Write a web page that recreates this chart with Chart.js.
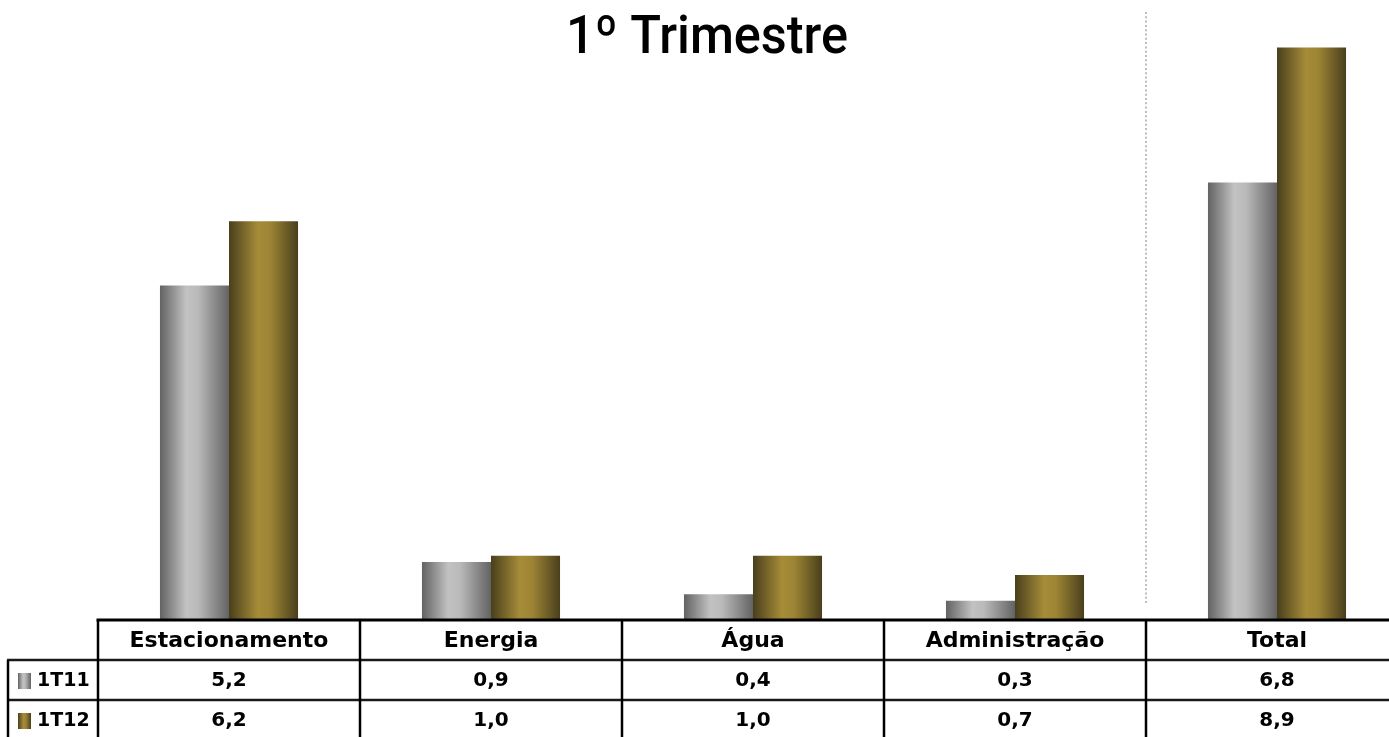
<!DOCTYPE html>
<html>
<head>
<meta charset="utf-8">
<script src="https://cdn.jsdelivr.net/npm/chart.js@4"></script>
<style>
  html, body { margin: 0; padding: 0; background: #fff; overflow: hidden; }
  #wrap { position: relative; width: 1408px; height: 737px; }
</style>
</head>
<body>
<div id="wrap"><canvas id="c"></canvas></div>
<script>
// Quarterly figures per cost line
const categories = ['Estacionamento', 'Energia', 'Água', 'Administração', 'Total'];
const seriesNames = ['1T11', '1T12'];
const values1T11 = [5.2, 0.9, 0.4, 0.3, 6.8];
const values1T12 = [6.2, 1.0, 1.0, 0.7, 8.9];
const chartTitle = '1º Trimestre';

const HEADER_FONT = 'bold 22px "DejaVu Sans", sans-serif';
const VALUE_FONT = 'bold 20px "DejaVu Sans", sans-serif';
const KEY_FONT = 'bold 19px "DejaVu Sans", sans-serif';
const TITLE_FONT = '500 53px Roboto, "Open Sans", sans-serif';
const CAT_PCT = 0.527;

// Cylinder-like horizontal shading for each series
const shades = [
  [[0, '#626262'], [0.38, '#c2c2c2'], [0.55, '#bababa'], [1, '#636363']],
  [[0, '#4a3f1c'], [0.42, '#a68c38'], [0.6, '#9c8434'], [1, '#4a3f1c']]
];

const fmt = v => v.toFixed(1).replace('.', ',');

function shadeFor(ctx, series, x0, x1) {
  const g = ctx.createLinearGradient(x0, 0, x1, 0);
  shades[series].forEach(s => g.addColorStop(s[0], s[1]));
  return g;
}

// per-bar gradient, positioned from the category scale
function barFill(context) {
  const chart = context.chart;
  const xs = chart.scales.x;
  const fallback = shades[context.datasetIndex][1][1];
  if (!xs || context.dataIndex === undefined) return fallback;
  const step = xs.getPixelForValue(1) - xs.getPixelForValue(0);
  const c = xs.getPixelForValue(context.dataIndex);
  if (!isFinite(step) || !isFinite(c) || step <= 0) return fallback;
  const w = step * CAT_PCT / 2;
  const x0 = context.datasetIndex === 0 ? c - w : c;
  return shadeFor(chart.ctx, context.datasetIndex, x0, x0 + w);
}

const tablePlugin = {
  id: 'dataTable',
  afterDraw(chart) {
    const ctx = chart.ctx;
    const xs = chart.scales.x;
    const area = chart.chartArea;
    const W = chart.width;
    const step = xs.getPixelForValue(1) - xs.getPixelForValue(0);
    const base = area.bottom;           // baseline of the bars
    const rows = [base, base + 40, base + 80, base + 120];
    const legendLeft = 8;

    ctx.save();
    // title, fitted to its box
    ctx.fillStyle = '#000';
    ctx.font = TITLE_FONT;
    ctx.textAlign = 'center';
    ctx.textBaseline = 'alphabetic';
    const tw = ctx.measureText(chartTitle).width;
    ctx.save();
    ctx.translate(707, 53);
    ctx.scale(Math.min(1.1, 282 / tw), 1);
    ctx.fillText(chartTitle, 0, 0);
    ctx.restore();

    // dotted separator before the Total column
    const sepX = xs.getPixelForValue(categories.length - 1) - step / 2;
    ctx.strokeStyle = '#bdbdbd';
    ctx.lineWidth = 2;
    ctx.setLineDash([2, 2.3]);
    ctx.beginPath();
    ctx.moveTo(sepX, 12);
    ctx.lineTo(sepX, 603);
    ctx.stroke();
    ctx.setLineDash([]);

    // grid lines
    ctx.strokeStyle = '#000';
    ctx.lineWidth = 3;
    ctx.beginPath();
    ctx.moveTo(area.left - 1.5, rows[0]);
    ctx.lineTo(W, rows[0]);
    ctx.stroke();

    ctx.strokeStyle = '#1a1a1a';
    ctx.lineWidth = 2.5;
    [rows[1], rows[2]].forEach(y => {
      ctx.beginPath();
      ctx.moveTo(legendLeft - 1, y);
      ctx.lineTo(W, y);
      ctx.stroke();
    });

    ctx.strokeStyle = '#000';
    ctx.lineWidth = 2.5;
    ctx.beginPath();
    ctx.moveTo(legendLeft, rows[1]);
    ctx.lineTo(legendLeft, rows[3]);
    ctx.stroke();
    for (let i = 0; i <= categories.length; i++) {
      const x = xs.getPixelForValue(i) - step / 2;
      ctx.beginPath();
      ctx.moveTo(x, rows[0]);
      ctx.lineTo(x, rows[3]);
      ctx.stroke();
    }

    // header labels
    ctx.fillStyle = '#000';
    ctx.font = HEADER_FONT;
    ctx.textAlign = 'center';
    ctx.textBaseline = 'middle';
    categories.forEach((c, i) => {
      ctx.fillText(c, xs.getPixelForValue(i), rows[0] + 21);
    });

    // value rows with legend keys
    const series = [values1T11, values1T12];
    series.forEach((vals, r) => {
      const cy = rows[1 + r] + 21;
      const sx = 18, sw = 13, sh = 16;
      ctx.fillStyle = shadeFor(ctx, r, sx, sx + sw);
      ctx.fillRect(sx, cy - sh / 2, sw, sh);
      ctx.fillStyle = '#000';
      ctx.font = KEY_FONT;
      ctx.textAlign = 'left';
      ctx.fillText(seriesNames[r], 37, cy);
      ctx.font = VALUE_FONT;
      ctx.textAlign = 'center';
      vals.forEach((v, i) => ctx.fillText(fmt(v), xs.getPixelForValue(i), cy));
    });
    ctx.restore();
  }
};

new Chart(document.getElementById('c'), {
  type: 'bar',
  data: {
    labels: categories,
    datasets: [
      { label: seriesNames[0], data: values1T11, backgroundColor: barFill },
      { label: seriesNames[1], data: values1T12, backgroundColor: barFill }
    ]
  },
  options: {
    responsive: true,
    maintainAspectRatio: false,
    animation: false,
    layout: { padding: { top: 41, bottom: 117, left: 98, right: 0 } },
    datasets: { bar: { categoryPercentage: CAT_PCT, barPercentage: 1.0, borderWidth: 0 } },
    scales: {
      x: { display: false },
      y: { display: false, min: 0, max: 9 }
    },
    plugins: {
      legend: { display: false },
      title: { display: false },
      tooltip: { enabled: false }
    }
  },
  plugins: [tablePlugin]
});
</script>
</body>
</html>
